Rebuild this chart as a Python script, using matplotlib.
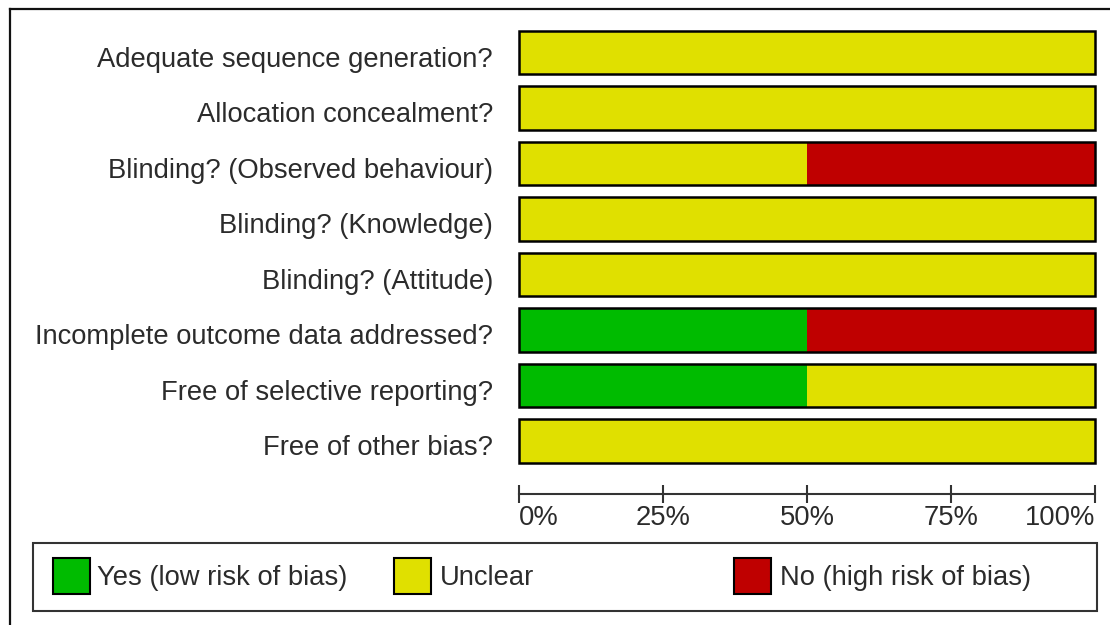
import matplotlib.pyplot as plt
from matplotlib.patches import Rectangle
from matplotlib.lines import Line2D

plt.rcParams['font.family'] = ['Liberation Sans', 'DejaVu Sans']

domains = [
    "Adequate sequence generation?",
    "Allocation concealment?",
    "Blinding? (Observed behaviour)",
    "Blinding? (Knowledge)",
    "Blinding? (Attitude)",
    "Incomplete outcome data addressed?",
    "Free of selective reporting?",
    "Free of other bias?",
]
yes_pct = [0, 0, 0, 0, 0, 50, 50, 0]
unclear_pct = [100, 100, 50, 100, 100, 0, 50, 100]
no_pct = [0, 0, 50, 0, 0, 50, 0, 0]

tick_vals = [0, 25, 50, 75, 100]
tick_labels = ["0%", "25%", "50%", "75%", "100%"]

legend_labels = ["Yes (low risk of bias)", "Unclear", "No (high risk of bias)"]
colors = ["#00BB00", "#E0E000", "#BF0000"]
text_color = "#2b2b2b"
fs = 19.7

W, H = 1110, 625
fig = plt.figure(figsize=(W / 100, H / 100), dpi=100)

# axes in pixel terms: bars from x=519 to 1095, row 0 centre at y=52.5, pitch 55.5
pitch = 55.5
y_axis = 494
top_row = -0.6
bottom_row = (y_axis - 52.5) / pitch
top_px = 52.5 + top_row * pitch
ax = fig.add_axes([519 / W, 1 - y_axis / H, 576 / W, (y_axis - top_px) / H])
ax.set_xlim(0, 100)
ax.set_ylim(bottom_row, top_row)

rows = range(len(domains))
h = 0.775
left = [0] * len(domains)
for vals, c in zip([yes_pct, unclear_pct, no_pct], colors):
    ax.barh(rows, vals, left=left, height=h, color=c, edgecolor="none")
    left = [l + v for l, v in zip(left, vals)]
outline = ax.barh(rows, left, height=h, fill=False, edgecolor="black", linewidth=1.8)
for p in outline:
    p.set_clip_on(False)

for i, name in enumerate(domains):
    ax.text(-26 / 5.76, i + 14.5 / pitch, name, ha="right", va="baseline",
            fontsize=fs, color=text_color, clip_on=False)

for s in ["top", "left", "right"]:
    ax.spines[s].set_visible(False)
ax.spines["bottom"].set_linewidth(1.5)
ax.spines["bottom"].set_color("#333333")
ax.set_yticks([])
ax.set_xticks(tick_vals)
ax.set_xticklabels(tick_labels, fontsize=fs, color=text_color)
ax.tick_params(axis="x", direction="inout", length=13.5, width=1.5,
               color="#333333", pad=1.5)
tl = ax.get_xticklabels()
tl[0].set_ha("left")
tl[-1].set_ha("right")

# outer frame (cut off at right and bottom)
fig.add_artist(Line2D([10 / W, 1], [1 - 9 / H, 1 - 9 / H], color="#111111", lw=1.6))
fig.add_artist(Line2D([10 / W, 10 / W], [0, 1 - 9 / H], color="#111111", lw=1.6))

# legend box drawn by hand
fig.add_artist(Rectangle((33 / W, 1 - 611 / H), (1097 - 33) / W, (611 - 543) / H,
                         transform=fig.transFigure, fill=False,
                         edgecolor="#333333", lw=1.5))
patch_x = [53, 394, 734]
text_x = [97, 440, 780]
for px, tx, lab, c in zip(patch_x, text_x, legend_labels, colors):
    fig.add_artist(Rectangle((px / W, 1 - 594 / H), 37 / W, 36 / H,
                             transform=fig.transFigure, facecolor=c,
                             edgecolor="black", lw=1.5))
    fig.text(tx / W, 1 - 585 / H, lab, fontsize=fs, color=text_color,
             ha="left", va="baseline")

fig.savefig("out.png", dpi=100)
